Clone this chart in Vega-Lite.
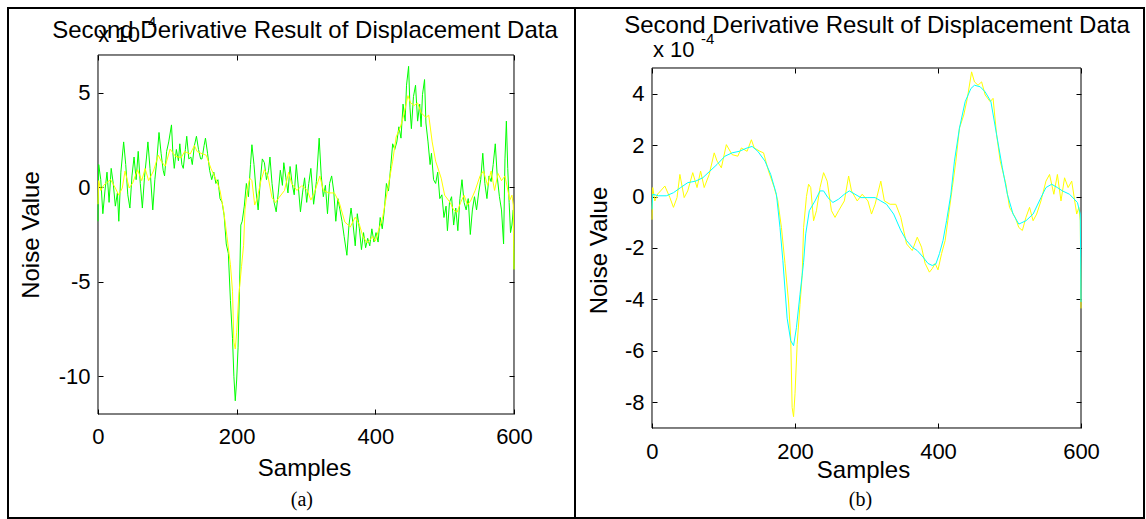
{
"$schema":"https://vega.github.io/schema/vega-lite/v6.json",
"background":"white",
"padding":{"left":7,"top":7,"right":0,"bottom":0},
"spacing":0,
"bounds":"flush",
"datasets":{
"yellow":[{"s":0,"v":-0.9},{"s":1,"v":0.35},{"s":4,"v":-0.17},{"s":8,"v":0.1},{"s":12,"v":0.22},{"s":18,"v":0.41},{"s":25,"v":-0.04},{"s":30,"v":-0.42},{"s":35,"v":-0.04},{"s":39,"v":0.86},{"s":45,"v":-0.04},{"s":50,"v":0.22},{"s":57,"v":0.93},{"s":63,"v":0.35},{"s":68,"v":0.99},{"s":73,"v":0.35},{"s":80,"v":0.86},{"s":87,"v":1.7},{"s":91,"v":1.38},{"s":97,"v":1.12},{"s":104,"v":2.02},{"s":112,"v":1.63},{"s":120,"v":1.57},{"s":125,"v":1.89},{"s":133,"v":1.76},{"s":139,"v":2.21},{"s":143,"v":1.89},{"s":151,"v":1.76},{"s":156,"v":1.7},{"s":163,"v":0.99},{"s":171,"v":0.35},{"s":176,"v":-0.17},{"s":181,"v":-1.2},{"s":186,"v":-2.6},{"s":191,"v":-4.1},{"s":194,"v":-5.5},{"s":196,"v":-8.2},{"s":198,"v":-8.56},{"s":200,"v":-7.67},{"s":203,"v":-5.75},{"s":207,"v":-4.2},{"s":210,"v":-3.07},{"s":212,"v":-1.2},{"s":216,"v":0.0},{"s":219,"v":0.48},{"s":222,"v":0.35},{"s":226,"v":-0.94},{"s":230,"v":-0.55},{"s":235,"v":0.35},{"s":240,"v":0.93},{"s":245,"v":0.6},{"s":251,"v":-0.55},{"s":256,"v":-0.81},{"s":261,"v":-0.55},{"s":269,"v":-0.17},{"s":275,"v":0.8},{"s":279,"v":0.22},{"s":287,"v":-0.17},{"s":294,"v":0.09},{"s":302,"v":-0.17},{"s":307,"v":-0.68},{"s":312,"v":-0.3},{"s":320,"v":0.6},{"s":325,"v":-0.17},{"s":333,"v":-0.3},{"s":341,"v":-0.3},{"s":348,"v":-0.81},{"s":356,"v":-1.84},{"s":364,"v":-2.1},{"s":371,"v":-1.58},{"s":377,"v":-1.97},{"s":382,"v":-2.6},{"s":388,"v":-2.94},{"s":392,"v":-2.8},{"s":396,"v":-2.6},{"s":400,"v":-2.85},{"s":405,"v":-2.22},{"s":410,"v":-1.71},{"s":415,"v":-0.68},{"s":420,"v":0.35},{"s":425,"v":1.38},{"s":430,"v":2.66},{"s":436,"v":3.17},{"s":441,"v":3.82},{"s":447,"v":4.85},{"s":451,"v":4.46},{"s":456,"v":4.33},{"s":461,"v":4.46},{"s":466,"v":3.95},{"s":473,"v":3.69},{"s":477,"v":3.82},{"s":482,"v":2.4},{"s":487,"v":1.38},{"s":495,"v":0.48},{"s":500,"v":-0.42},{"s":508,"v":-0.81},{"s":513,"v":-1.2},{"s":518,"v":-1.32},{"s":523,"v":-0.81},{"s":528,"v":-0.42},{"s":533,"v":-0.94},{"s":538,"v":-0.68},{"s":544,"v":-0.17},{"s":551,"v":0.6},{"s":556,"v":0.86},{"s":562,"v":0.09},{"s":567,"v":0.86},{"s":572,"v":-0.17},{"s":577,"v":0.73},{"s":582,"v":0.35},{"s":587,"v":0.6},{"s":594,"v":-0.68},{"s":597,"v":-0.42},{"s":599,"v":-0.94},{"s":600,"v":-4.35}],
"green":[{"s":0,"v":-1.8},{"s":1,"v":1.2},{"s":4,"v":0.4},{"s":7,"v":-1.4},{"s":10,"v":-0.2},{"s":13,"v":0.8},{"s":16,"v":-0.8},{"s":19,"v":1.0},{"s":22,"v":0.2},{"s":25,"v":-1.0},{"s":28,"v":-0.3},{"s":30,"v":-1.8},{"s":33,"v":0.8},{"s":37,"v":2.4},{"s":40,"v":1.2},{"s":43,"v":-0.4},{"s":46,"v":-1.1},{"s":49,"v":0.6},{"s":52,"v":1.6},{"s":55,"v":0.4},{"s":58,"v":1.9},{"s":61,"v":0.2},{"s":64,"v":-1.1},{"s":67,"v":0.5},{"s":70,"v":1.6},{"s":72,"v":2.4},{"s":75,"v":1.0},{"s":79,"v":-1.2},{"s":82,"v":0.4},{"s":85,"v":1.5},{"s":88,"v":2.9},{"s":91,"v":1.8},{"s":94,"v":0.9},{"s":96,"v":0.6},{"s":99,"v":1.9},{"s":102,"v":2.4},{"s":106,"v":3.3},{"s":108,"v":1.8},{"s":110,"v":1.0},{"s":113,"v":2.0},{"s":116,"v":1.4},{"s":118,"v":2.3},{"s":121,"v":1.2},{"s":123,"v":1.0},{"s":126,"v":2.0},{"s":128,"v":2.7},{"s":131,"v":1.5},{"s":134,"v":1.6},{"s":136,"v":1.2},{"s":139,"v":2.2},{"s":142,"v":2.7},{"s":145,"v":2.0},{"s":148,"v":1.5},{"s":150,"v":1.5},{"s":153,"v":2.2},{"s":155,"v":2.6},{"s":158,"v":1.8},{"s":161,"v":0.9},{"s":164,"v":0.4},{"s":167,"v":0.8},{"s":170,"v":0.2},{"s":173,"v":0.4},{"s":176,"v":-0.6},{"s":179,"v":-0.8},{"s":182,"v":-1.5},{"s":185,"v":-3.0},{"s":188,"v":-3.5},{"s":191,"v":-6.0},{"s":194,"v":-8.0},{"s":196,"v":-10.0},{"s":198,"v":-11.3},{"s":200,"v":-10.2},{"s":202,"v":-8.5},{"s":204,"v":-5.5},{"s":206,"v":-2.0},{"s":208,"v":-1.8},{"s":211,"v":-1.0},{"s":214,"v":0.2},{"s":217,"v":-0.5},{"s":220,"v":1.2},{"s":222,"v":2.25},{"s":225,"v":1.2},{"s":228,"v":-0.2},{"s":231,"v":-1.2},{"s":234,"v":0.3},{"s":237,"v":1.5},{"s":240,"v":1.3},{"s":243,"v":0.4},{"s":246,"v":0.9},{"s":248,"v":1.6},{"s":251,"v":0.2},{"s":254,"v":-0.8},{"s":257,"v":-1.3},{"s":260,"v":-0.3},{"s":263,"v":0.9},{"s":266,"v":0.1},{"s":268,"v":1.3},{"s":271,"v":0.5},{"s":274,"v":-0.3},{"s":277,"v":1.1},{"s":280,"v":0.2},{"s":283,"v":-0.4},{"s":286,"v":1.2},{"s":289,"v":0.0},{"s":292,"v":-1.3},{"s":295,"v":-0.3},{"s":298,"v":0.5},{"s":301,"v":-0.8},{"s":304,"v":0.2},{"s":307,"v":1.0},{"s":311,"v":-0.9},{"s":315,"v":0.3},{"s":319,"v":2.6},{"s":322,"v":0.6},{"s":325,"v":-0.5},{"s":328,"v":0.1},{"s":331,"v":-1.4},{"s":334,"v":0.2},{"s":337,"v":0.6},{"s":340,"v":-0.2},{"s":343,"v":-1.8},{"s":346,"v":-0.6},{"s":349,"v":-1.2},{"s":352,"v":-1.8},{"s":355,"v":-2.6},{"s":359,"v":-3.6},{"s":362,"v":-2.0},{"s":365,"v":-1.1},{"s":368,"v":-2.0},{"s":371,"v":-3.1},{"s":374,"v":-1.4},{"s":377,"v":-2.2},{"s":380,"v":-3.3},{"s":383,"v":-2.4},{"s":386,"v":-3.2},{"s":389,"v":-2.7},{"s":392,"v":-3.1},{"s":395,"v":-2.2},{"s":398,"v":-2.9},{"s":401,"v":-2.4},{"s":404,"v":-2.9},{"s":407,"v":-1.6},{"s":410,"v":-2.2},{"s":413,"v":-1.2},{"s":416,"v":0.2},{"s":419,"v":-0.2},{"s":422,"v":1.0},{"s":425,"v":2.3},{"s":428,"v":2.0},{"s":431,"v":2.4},{"s":434,"v":3.2},{"s":437,"v":2.6},{"s":440,"v":4.4},{"s":443,"v":3.5},{"s":445,"v":5.4},{"s":448,"v":6.4},{"s":450,"v":4.2},{"s":452,"v":3.1},{"s":455,"v":4.8},{"s":458,"v":5.4},{"s":461,"v":3.5},{"s":464,"v":4.4},{"s":466,"v":3.2},{"s":468,"v":4.9},{"s":471,"v":5.7},{"s":473,"v":3.4},{"s":476,"v":2.4},{"s":479,"v":1.2},{"s":481,"v":1.8},{"s":484,"v":0.4},{"s":487,"v":0.2},{"s":490,"v":0.8},{"s":493,"v":-0.6},{"s":496,"v":-0.4},{"s":499,"v":-1.6},{"s":502,"v":-1.0},{"s":504,"v":-2.3},{"s":507,"v":-0.8},{"s":510,"v":-0.5},{"s":513,"v":-2.0},{"s":516,"v":-1.1},{"s":519,"v":-2.3},{"s":522,"v":-0.6},{"s":525,"v":0.4},{"s":528,"v":-0.8},{"s":531,"v":-1.2},{"s":534,"v":-0.6},{"s":537,"v":-2.5},{"s":540,"v":-1.2},{"s":543,"v":-0.5},{"s":546,"v":-1.2},{"s":549,"v":-0.3},{"s":552,"v":0.4},{"s":555,"v":1.8},{"s":558,"v":0.2},{"s":561,"v":-0.6},{"s":564,"v":0.6},{"s":567,"v":0.3},{"s":570,"v":1.2},{"s":573,"v":2.3},{"s":576,"v":0.5},{"s":579,"v":-0.5},{"s":582,"v":-1.2},{"s":585,"v":-3.0},{"s":587,"v":1.5},{"s":589,"v":3.5},{"s":591,"v":1.0},{"s":593,"v":-0.8},{"s":595,"v":-2.4},{"s":597,"v":-2.0},{"s":599,"v":-1.2},{"s":600,"v":-4.35}],
"cyan":[{"s":0,"v":-0.5},{"s":1,"v":0.09},{"s":9,"v":0.03},{"s":20,"v":0.03},{"s":30,"v":0.15},{"s":40,"v":0.35},{"s":50,"v":0.54},{"s":61,"v":0.6},{"s":71,"v":0.73},{"s":81,"v":0.99},{"s":91,"v":1.25},{"s":102,"v":1.57},{"s":112,"v":1.7},{"s":122,"v":1.76},{"s":133,"v":1.89},{"s":140,"v":1.95},{"s":148,"v":1.76},{"s":158,"v":1.38},{"s":166,"v":0.86},{"s":174,"v":0.09},{"s":179,"v":-1.2},{"s":183,"v":-2.48},{"s":189,"v":-4.73},{"s":194,"v":-5.6},{"s":198,"v":-5.8},{"s":202,"v":-5.1},{"s":207,"v":-3.8},{"s":212,"v":-2.56},{"s":215,"v":-1.45},{"s":220,"v":-0.55},{"s":228,"v":-0.17},{"s":235,"v":0.22},{"s":240,"v":0.22},{"s":246,"v":-0.04},{"s":253,"v":-0.23},{"s":261,"v":-0.1},{"s":269,"v":0.09},{"s":276,"v":0.22},{"s":284,"v":0.09},{"s":292,"v":-0.04},{"s":302,"v":-0.04},{"s":312,"v":-0.04},{"s":320,"v":-0.17},{"s":328,"v":-0.3},{"s":338,"v":-0.68},{"s":348,"v":-1.32},{"s":356,"v":-1.71},{"s":364,"v":-1.97},{"s":371,"v":-2.1},{"s":379,"v":-2.35},{"s":386,"v":-2.6},{"s":392,"v":-2.68},{"s":397,"v":-2.62},{"s":402,"v":-2.22},{"s":407,"v":-1.71},{"s":412,"v":-0.94},{"s":418,"v":0.09},{"s":423,"v":1.38},{"s":430,"v":2.66},{"s":438,"v":3.69},{"s":446,"v":4.2},{"s":451,"v":4.33},{"s":459,"v":4.27},{"s":466,"v":4.07},{"s":474,"v":3.69},{"s":482,"v":2.4},{"s":490,"v":1.12},{"s":497,"v":0.09},{"s":505,"v":-0.68},{"s":513,"v":-1.07},{"s":523,"v":-0.94},{"s":533,"v":-0.68},{"s":544,"v":-0.04},{"s":551,"v":0.35},{"s":559,"v":0.48},{"s":567,"v":0.35},{"s":574,"v":0.22},{"s":584,"v":0.09},{"s":595,"v":-0.23},{"s":599,"v":-0.68},{"s":600,"v":-4.1}]
},
"hconcat":[
{
"width":567,"height":510,
"resolve":{"axis":{"x":"independent","y":"independent"}},
"layer":[
{"data":{"values":[{}]},"mark":{"type":"rect","filled":false,"stroke":"black","strokeWidth":1},
"encoding":{
"x":{"datum":0,"type":"quantitative","scale":{"domain":[-129.81,688.0],"nice":false,"zero":false},"axis":{"orient":"bottom","offset":-104,"values":[0,200,400,600],"labelPadding":17,"labelExpr":"'' + datum.value","title":"Samples","titleX":296,"titleY":61,"titleBaseline":"alphabetic"}},
"x2":{"datum":600},
"y":{"datum":7,"type":"quantitative","scale":{"domain":[-17.504,9.487],"nice":false,"zero":false},"axis":{"orient":"left","offset":-90,"values":[-10,-5,0,5],"labelPadding":13,"labelExpr":"'' + datum.value","title":"Noise Value","titleX":-67,"titleY":226.5,"titleBaseline":"middle"}},
"y2":{"datum":-12}}},
{"data":{"name":"green"},"mark":{"type":"line","color":"#00ff00","strokeWidth":1},
"encoding":{
"x":{"field":"s","type":"quantitative","axis":{"orient":"top","offset":-47,"values":[0,200,400,600],"labels":false,"title":null}},
"y":{"field":"v","type":"quantitative","axis":{"orient":"right","offset":-61,"values":[-10,-5,0,5],"labels":false,"title":null}}}},
{"data":{"name":"yellow"},"mark":{"type":"line","color":"#ffff00","strokeWidth":1},
"encoding":{
"x":{"field":"s","type":"quantitative","axis":null},
"y":{"field":"v","type":"quantitative","axis":null}}},
{"data":{"values":[{}]},"mark":{"type":"text","text":"Second Derivative Result of Displacement Data","fontSize":24,"align":"center","baseline":"alphabetic","color":"black"},
"encoding":{"x":{"datum":298.6,"type":"quantitative","axis":null},"y":{"datum":7.9,"type":"quantitative","axis":null}}},
{"data":{"values":[{}]},"mark":{"type":"text","text":"x 10","fontSize":22,"align":"left","baseline":"alphabetic","color":"black"},
"encoding":{"x":{"datum":0.5,"type":"quantitative","axis":null},"y":{"datum":7.69,"type":"quantitative","axis":null}}},
{"data":{"values":[{}]},"mark":{"type":"text","text":"-4","fontSize":15,"align":"left","baseline":"alphabetic","color":"black"},
"encoding":{"x":{"datum":64.9,"type":"quantitative","axis":null},"y":{"datum":8.48,"type":"quantitative","axis":null}}},
{"data":{"values":[{}]},"mark":{"type":"text","text":"(a)","fontSize":20,"font":"Liberation Serif","align":"center","baseline":"alphabetic","color":"black"},
"encoding":{"x":{"datum":294,"type":"quantitative","axis":null},"y":{"datum":-16.87,"type":"quantitative","axis":null}}}
]
},
{
"width":569,"height":510,
"resolve":{"axis":{"x":"independent","y":"independent"}},
"layer":[
{"data":{"values":[{}]},"mark":{"type":"rect","filled":false,"stroke":"black","strokeWidth":1},
"encoding":{
"x":{"datum":0,"type":"quantitative","scale":{"domain":[-107.69,688.11],"nice":false,"zero":false},"axis":{"orient":"bottom","offset":-90,"values":[0,200,400,600],"labelPadding":18,"labelExpr":"'' + datum.value","title":"Samples","titleX":288,"titleY":49,"titleBaseline":"alphabetic"}},
"x2":{"datum":600},
"y":{"datum":5,"type":"quantitative","scale":{"domain":[-12.5,7.333],"nice":false,"zero":false},"axis":{"orient":"left","offset":-77,"values":[-8,-6,-4,-2,0,2,4],"labelPadding":13,"labelExpr":"'' + datum.value","title":"Noise Value","titleX":-53,"titleY":242,"titleBaseline":"middle"}},
"y2":{"datum":-9}}},
{"data":{"name":"yellow"},"mark":{"type":"line","color":"#ffff00","strokeWidth":1},
"encoding":{
"x":{"field":"s","type":"quantitative","axis":{"orient":"top","offset":-60,"values":[0,200,400,600],"labels":false,"title":null}},
"y":{"field":"v","type":"quantitative","axis":{"orient":"right","offset":-63,"values":[-8,-6,-4,-2,0,2,4],"labels":false,"title":null}}}},
{"data":{"name":"cyan"},"mark":{"type":"line","color":"#00ffff","strokeWidth":1},
"encoding":{
"x":{"field":"s","type":"quantitative","axis":null},
"y":{"field":"v","type":"quantitative","axis":null}}},
{"data":{"values":[{}]},"mark":{"type":"text","text":"Second Derivative Result of Displacement Data","fontSize":24,"align":"center","baseline":"alphabetic","color":"black"},
"encoding":{"x":{"datum":314.7,"type":"quantitative","axis":null},"y":{"datum":6.36,"type":"quantitative","axis":null}}},
{"data":{"values":[{}]},"mark":{"type":"text","text":"x 10","fontSize":22,"align":"left","baseline":"alphabetic","color":"black"},
"encoding":{"x":{"datum":1.4,"type":"quantitative","axis":null},"y":{"datum":5.43,"type":"quantitative","axis":null}}},
{"data":{"values":[{}]},"mark":{"type":"text","text":"-4","fontSize":15,"align":"left","baseline":"alphabetic","color":"black"},
"encoding":{"x":{"datum":68.5,"type":"quantitative","axis":null},"y":{"datum":5.93,"type":"quantitative","axis":null}}},
{"data":{"values":[{}]},"mark":{"type":"text","text":"(b)","fontSize":20,"font":"Liberation Serif","align":"center","baseline":"alphabetic","color":"black"},
"encoding":{"x":{"datum":291.6,"type":"quantitative","axis":null},"y":{"datum":-12.03,"type":"quantitative","axis":null}}}
]
}
],
"config":{
"font":"Liberation Sans",
"view":{"stroke":"black","strokeWidth":2},
"axis":{"grid":false,"domain":false,"tickColor":"black","tickSize":-5,"tickWidth":1,"labelColor":"black","labelFontSize":22,"labelFont":"Liberation Sans","titleFont":"Liberation Sans","titleFontSize":24,"titleFontWeight":"normal","titleColor":"black","labelFlush":false,"labelOverlap":false},
"text":{"font":"Liberation Sans"}
}
}
